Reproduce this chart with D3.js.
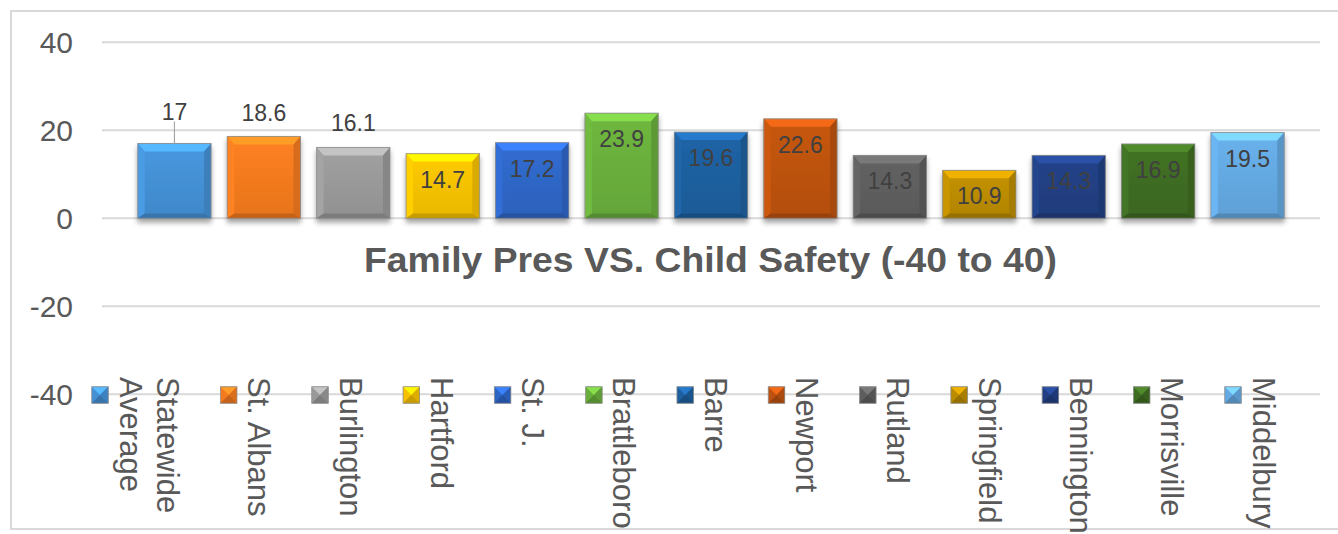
<!DOCTYPE html>
<html>
<head>
<meta charset="utf-8">
<script src="https://cdn.jsdelivr.net/npm/d3@7"></script>
<style>
  html, body { margin: 0; padding: 0; background: #ffffff; }
  svg { display: block; font-family: "Liberation Sans", Arial, sans-serif; }
</style>
</head>
<body>
<svg id="chart" width="1338" height="534"></svg>
<script>
// Offices compared on the Family Preservation vs. Child Safety scale
const categories = ["Statewide Average", "St. Albans", "Burlington", "Hartford", "St. J.",
  "Brattleboro", "Barre", "Newport", "Rutland", "Springfield", "Bennington", "Morrisville", "Middelbury"];
const values = [17, 18.6, 16.1, 14.7, 17.2, 23.9, 19.6, 22.6, 14.3, 10.9, 14.3, 16.9, 19.5];
const yTicks = [-40, -20, 0, 20, 40];
const title = "Family Pres VS. Child Safety (-40 to 40)";

// Series fill colours (one per office)
const colors = ["#4490d4", "#f47a1f", "#999999", "#f6c100", "#2e66c6", "#69ae3c", "#1e5f9e",
  "#bd5210", "#5e5e5e", "#bb8b00", "#213f82", "#3e6c22", "#64a9e2"];
// Label placement: "outside" labels sit above the bar, others inside near the top
const labelPlacement = ["outside", "outside", "outside", "inside", "inside", "inside", "inside",
  "inside", "inside", "inside", "inside", "inside", "inside"];
const labelOutsideGap = [32, 23.5, 24.4];

const svg = d3.select("#chart");
const textColor = "#595959";

// outer chart frame
svg.append("rect")
  .attr("x", 11).attr("y", 11).attr("width", 1340).attr("height", 518)
  .attr("fill", "none").attr("stroke", "#d9d9d9").attr("stroke-width", 2);

const x = d3.scaleBand().domain(categories).range([102, 1320]).paddingInner(0.18).paddingOuter(0.4);
const y = d3.scaleLinear().domain([-40, 40]).range([394.3, 42.3]);

// shadow filter for the bars
const defs = svg.append("defs");
const f = defs.append("filter").attr("id", "shadow").attr("x", "-20%").attr("y", "-20%").attr("width", "140%").attr("height", "150%");
f.append("feDropShadow").attr("dx", 0).attr("dy", 4).attr("stdDeviation", 2.5)
  .attr("flood-color", "#000").attr("flood-opacity", 0.35);

// gridlines
svg.append("g").selectAll("line").data(yTicks).join("line")
  .attr("x1", 102).attr("x2", 1320)
  .attr("y1", d => y(d)).attr("y2", d => y(d))
  .attr("stroke", "#d9d9d9").attr("stroke-width", 2);

// y axis labels
const yAxis = d3.axisLeft(y).tickValues(yTicks).tickSize(0).tickPadding(0).tickFormat(d => String(d));
const yg = svg.append("g").attr("transform", "translate(73,0)").call(yAxis);
yg.select(".domain").remove();
yg.selectAll("text").attr("font-size", 30).attr("fill", textColor)
  .attr("font-family", "Liberation Sans, Arial, sans-serif").attr("dy", "0.34em");

// bevelled bar, drawn as face + four bevel facets
function bevelShape(g, x0, y0, w, h, base, bTop, bSide) {
  const c = d3.color(base);
  const grad = "g" + Math.random().toString(36).slice(2, 8);
  const lg = defs.append("linearGradient").attr("id", grad).attr("x1", 0).attr("y1", 0).attr("x2", 0).attr("y2", 1);
  lg.append("stop").attr("offset", "0%").attr("stop-color", c.brighter(0.15));
  lg.append("stop").attr("offset", "100%").attr("stop-color", c.darker(0.15));
  g.append("rect").attr("x", x0).attr("y", y0).attr("width", w).attr("height", h).attr("fill", `url(#${grad})`);
  const bb = Math.min(bTop, h / 2), bs = Math.min(bSide, w / 2);
  const poly = (pts, fill) => g.append("polygon").attr("points", pts.map(p => p.join(",")).join(" ")).attr("fill", fill);
  poly([[x0, y0], [x0 + w, y0], [x0 + w - bs, y0 + bb], [x0 + bs, y0 + bb]], c.brighter(0.7));
  poly([[x0, y0], [x0 + bs, y0 + bb], [x0 + bs, y0 + h - bb * 0.6], [x0, y0 + h]], c.brighter(0.2));
  poly([[x0 + w, y0], [x0 + w - bs, y0 + bb], [x0 + w - bs, y0 + h - bb * 0.6], [x0 + w, y0 + h]], c.darker(0.35));
  poly([[x0, y0 + h], [x0 + bs, y0 + h - bb * 0.6], [x0 + w - bs, y0 + h - bb * 0.6], [x0 + w, y0 + h]], c.darker(0.6));
  g.append("rect").attr("x", x0).attr("y", y0).attr("width", w).attr("height", h)
    .attr("fill", "none").attr("stroke", "#8c8c8c").attr("stroke-opacity", 0.8).attr("stroke-width", 1);
}

// bars
const barsG = svg.append("g");
categories.forEach((cat, i) => {
  const v = values[i];
  const g = barsG.append("g").attr("filter", "url(#shadow)");
  const top = y(Math.max(0, v)), bottom = y(Math.min(0, v));
  bevelShape(g, x(cat), top, x.bandwidth(), bottom - top, colors[i], 8, 7);
});

// value labels
const labelsG = svg.append("g");
categories.forEach((cat, i) => {
  const cx = x(cat) + x.bandwidth() / 2;
  const top = y(values[i]);
  let cy;
  if (labelPlacement[i] === "outside") {
    cy = top - labelOutsideGap[i];
  } else {
    cy = top + 26;
  }
  labelsG.append("text").attr("x", cx).attr("y", cy).attr("dy", "0.35em")
    .attr("text-anchor", "middle").attr("font-size", 23).attr("fill", "#404040")
    .text(values[i]);
  if (i === 0) {
    labelsG.append("line").attr("x1", cx).attr("x2", cx).attr("y1", cy + 10).attr("y2", top)
      .attr("stroke", "#a6a6a6").attr("stroke-width", 1.2);
  }
});

// title
svg.append("text").attr("x", 710.5).attr("y", 272).attr("text-anchor", "middle")
  .attr("font-size", 35).attr("font-weight", "bold").attr("fill", textColor)
  .attr("textLength", 693).attr("lengthAdjust", "spacingAndGlyphs")
  .text(title);

// legend (vertical text, entries packed left to right)
const legendWrap = { "Statewide Average": ["Statewide", "Average"] };
const lineStep = 37.4, entryStep = 91.3;
let mx = 100;
const legendG = svg.append("g");
categories.forEach((cat, i) => {
  const lines = legendWrap[cat] || [cat];
  const c = d3.color(colors[i]);
  const s = 16.5, my = 395;
  const mg = legendG.append("g");
  const x0 = mx - s / 2, y0 = my - s / 2;
  mg.append("rect").attr("x", x0).attr("y", y0).attr("width", s).attr("height", s).attr("fill", c);
  mg.append("polygon").attr("points", `${x0},${y0} ${x0 + s},${y0} ${x0 + s / 2},${y0 + s / 2}`).attr("fill", c.brighter(0.7));
  mg.append("polygon").attr("points", `${x0 + s},${y0} ${x0 + s},${y0 + s} ${x0 + s / 2},${y0 + s / 2}`).attr("fill", c.darker(0.3));
  mg.append("polygon").attr("points", `${x0},${y0 + s} ${x0 + s},${y0 + s} ${x0 + s / 2},${y0 + s / 2}`).attr("fill", c.darker(0.6));
  mg.append("rect").attr("x", x0).attr("y", y0).attr("width", s).attr("height", s)
    .attr("fill", "none").attr("stroke", "#8c8c8c").attr("stroke-width", 0.8);
  lines.forEach((ln, k) => {
    const bx = mx + 19.5 + (lines.length - 1 - k) * lineStep;
    legendG.append("text")
      .attr("transform", `translate(${bx},377) rotate(90)`)
      .attr("font-size", 31).attr("fill", textColor)
      .text(ln);
  });
  mx += entryStep + (lines.length - 1) * lineStep;
});
</script>
</body>
</html>
